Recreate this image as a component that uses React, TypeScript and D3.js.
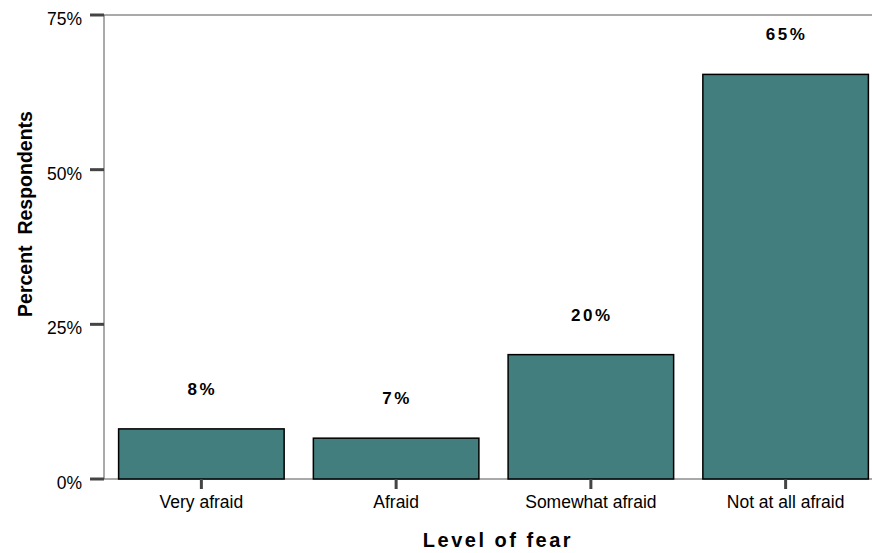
import React from "react";
import * as d3 from "d3";

const categories = ["Very afraid", "Afraid", "Somewhat afraid", "Not at all afraid"];
const values = [8.1, 6.6, 20.1, 65.4];
const valueLabels = ["8%", "7%", "20%", "65%"];
const yTicks = [0, 25, 50, 75];

export default function App() {
  const W = 872, H = 553;
  const x0 = 104, yBase = 479, yTop = 15;
  const x = d3.scaleBand<string>().domain(categories).range([x0, 883]).paddingInner(0.15).paddingOuter(0.075);
  const y = d3.scaleLinear().domain([0, 75]).range([yBase, yTop]);
  const font = "Arial, 'Liberation Sans', sans-serif";
  return (
    <svg width={W} height={H} style={{ position: "absolute", left: 0, top: 0 }} fontFamily={font}>
      <rect x={0} y={0} width={W} height={H} fill="#fff" />
      <line x1={x0} x2={W} y1={yTop} y2={yTop} stroke="#555" strokeWidth={1} />
      <line x1={x0} x2={x0} y1={yTop} y2={yBase} stroke="#555" strokeWidth={1} />
      <line x1={x0} x2={W} y1={yBase} y2={yBase} stroke="#555" strokeWidth={1} />
      {yTicks.map((t) => (
        <g key={t}>
          <line x1={90} x2={x0} y1={y(t)} y2={y(t)} stroke="#444" strokeWidth={3} />
          <text x={82} y={y(t) + 10} textAnchor="end" fontSize={17.5} fill="#000">{t}%</text>
        </g>
      ))}
      {categories.map((c, i) => {
        const cx = (x(c) as number) + x.bandwidth() / 2;
        return (
          <g key={c}>
            <rect x={x(c)} y={y(values[i])} width={x.bandwidth()} height={yBase - y(values[i])}
              fill="#427E7D" stroke="#000" strokeWidth={1.5} />
            <line x1={cx} x2={cx} y1={yBase} y2={yBase + 10} stroke="#444" strokeWidth={3} />
            <text x={cx} y={yBase + 29} textAnchor="middle" fontSize={17.5} fill="#000">{c}</text>
            <text x={cx + 1} y={y(values[i]) - 34} textAnchor="middle" fontSize={17} fontWeight="bold" letterSpacing={2.5} fill="#000">{valueLabels[i]}</text>
          </g>
        );
      })}
      <text x={498} y={547} textAnchor="middle" fontSize={20} fontWeight="bold" letterSpacing={2.5} fill="#000">Level of fear</text>
      <text transform={`translate(32,214) rotate(-90)`} textAnchor="middle" fontSize={19.5} fontWeight="bold" fill="#000">{"Percent\u00A0\u00A0Respondents"}</text>
    </svg>
  );
}
